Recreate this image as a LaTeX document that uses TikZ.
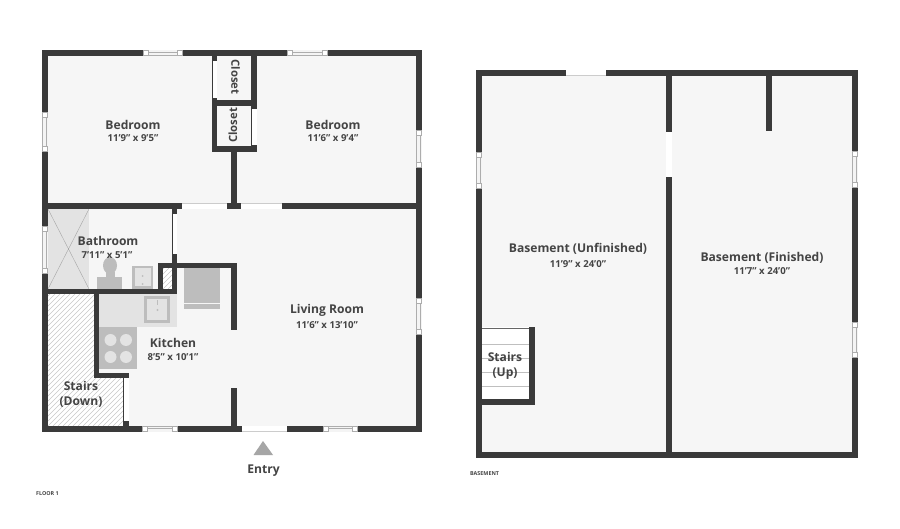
\documentclass[tikz,border=0pt]{standalone}
\usepackage{fontspec}
\setmainfont{Open Sans}
\definecolor{wallc}{HTML}{3A3A3A}
\definecolor{floorc}{HTML}{F6F6F6}
\definecolor{fixt}{HTML}{E3E3E3}
\definecolor{appl}{HTML}{BDBDBD}
\definecolor{txtc}{HTML}{444444}
\newcommand{\wall}[4]{\fill[wallc] (#1,#2) rectangle (#3,#4);}
\newcommand{\opening}[4]{\fill[white] (#1,#2) rectangle (#3,#4);}
\newcommand{\hwin}[3]{\fill[white] (#1,#3) rectangle (#2,#3+5.6);
  \draw[winline] (#1,#3+.3) rectangle (#2,#3+5.3);
  \fill[fixt!40] (#1+5,#3+.3) rectangle (#2-5,#3+5.3);
  \draw[winline] (#1+5,#3+.3) -- (#1+5,#3+5.3) (#2-5,#3+.3) -- (#2-5,#3+5.3);
  \draw[winline] (#1+5,#3+2) -- (#2-5,#3+2);}
\newcommand{\vwin}[3]{\fill[white] (#3,#1) rectangle (#3+5.6,#2);
  \draw[winline] (#3+.3,#1) rectangle (#3+5.3,#2);
  \fill[fixt!40] (#3+.3,#1+5) rectangle (#3+5.3,#2-5);
  \draw[winline] (#3+.3,#1+5) -- (#3+5.3,#1+5) (#3+.3,#2-5) -- (#3+5.3,#2-5);
  \draw[winline] (#3+3.6,#1+5) -- (#3+3.6,#2-5);}
\tikzset{
  x=1pt,y=-1pt,
  winline/.style={draw=black!32,line width=.4pt},
  hatchline/.style={draw=black!22,line width=.5pt},
  stepline/.style={draw=black!25,line width=.7pt},
  roomname/.style={font=\bfseries\fontsize{12.1}{13.5}\selectfont,text=txtc,inner sep=0pt,align=center},
  closetname/.style={font=\bfseries\fontsize{11.3}{13}\selectfont,text=txtc,inner sep=0pt},
  roomdim/.style={font=\bfseries\fontsize{9.6}{11}\selectfont,text=txtc,inner sep=0pt},
  floorlabel/.style={font=\bfseries\fontsize{5.4}{6}\selectfont,text=txtc,inner sep=0pt,anchor=west},
}
\begin{document}
\begin{tikzpicture}
\useasboundingbox (0,0) rectangle (900,529);
\fill[white] (0,0) rectangle (900,529);
% floors
\fill[floorc] (42,50) rectangle (422,432);
\fill[floorc] (476,70) rectangle (858,458);
% shower
\fill[fixt] (48,209) rectangle (89,289);
\draw[black!35,line width=.4pt] (48,209) -- (89,289) (89,209) -- (48,289);
% stairs down hatch: one L-shaped clip for the whole flight
\begin{scope}
  \clip (48,294) -- (94,294) -- (94,378) -- (123,378) -- (123,426) -- (48,426) -- cycle;
  \fill[white] (48,294) rectangle (123,426);
  \foreach \d in {-140,-135,...,130}{\draw[hatchline] (48+\d,426) -- (48+\d+140,286);}
\end{scope}
% shaft
\begin{scope}
  \clip (163,268) rectangle (172,289);
  \fill[white] (163,268) rectangle (172,289);
  \foreach \d in {-30,-25,...,10}{\draw[hatchline] (163+\d,289) -- (163+\d+30,259);}
\end{scope}
% bath fixtures
\fill[appl] (97,277) rectangle (122,289);
\fill[appl] (105.5,272) rectangle (114.5,278);
\fill[appl] (110,265.5) ellipse (7 and 8.5);
\fill[appl] (132,266) rectangle (153,289);
\fill[fixt] (134.5,268.5) rectangle (150.5,286.5);
\fill[appl] (142.5,276) circle (1);
\fill[appl] (142.5,284) circle (1);
% kitchen counter
\fill[fixt] (99,294) rectangle (177,327);
\fill[appl] (144,296) rectangle (170,323);
\fill[fixt] (147,299) rectangle (167,320);
\fill[appl] (157,300) rectangle (158,305);
\fill[appl] (157.5,310) circle (1.2);
% stove
\fill[appl] (99,327) rectangle (137,369);
\foreach \cx/\cy in {110.5/340,126/340,110.5/357,126/357}{\fill[fixt] (\cx,\cy) circle (6);}
% fridge
\fill[appl] (184,268) rectangle (220,303);
\fill[appl] (184,304) rectangle (220,309);
% floor 1 walls
\wall{42}{50}{422}{56}
\wall{42}{426}{422}{432}
\wall{42}{50}{48}{432}
\wall{416}{50}{422}{432}
\wall{42}{203}{422}{209}
\wall{212}{50}{217}{152}
\wall{251}{50}{257}{152}
\wall{212}{100}{257}{106}
\wall{212}{146}{257}{152}
\wall{231}{152}{237}{209}
\wall{172}{209}{177}{268}
\wall{158}{263}{237}{268.5}
\wall{231}{263}{237}{330}
\wall{231}{388}{237}{432}
\wall{158}{263}{163}{294}
\wall{172}{263}{177}{294}
\wall{42}{289}{177}{294.5}
\wall{94}{289}{99}{378}
\wall{94}{373}{129}{378.5}
\wall{123}{373}{128.5}{432}
% floor 1 openings
\opening{182}{203}{227}{209}
\opening{241}{203}{282}{209}
\draw[black!20,line width=.3pt] (182,203.3) -- (227,203.3) (241,203.3) -- (282,203.3);
\opening{212.5}{61}{217}{98}
\opening{252}{109}{257}{145}
\opening{172.5}{214}{177}{254}
\opening{123.5}{378.5}{128.5}{421}
\opening{242}{426}{287}{432}
\draw[black!20,line width=.3pt] (242,431.6) -- (287,431.6);
\hwin{143}{182}{50.2}
\hwin{287}{327}{50.2}
\hwin{142}{177}{426.2}
\hwin{323}{357}{426.2}
\vwin{112}{151}{42.2}
\vwin{226}{273}{42.2}
\vwin{130}{167}{416.2}
\vwin{298}{334}{416.2}
% entry
\fill[black!35] (263,441) -- (273,455) -- (253.5,455) -- cycle;
% basement steps
\fill[white] (482,327) rectangle (529,399);
\foreach \sy in {344,358,372,386}{\draw[stepline] (482,\sy) -- (529,\sy);}
\draw[black!60,line width=.8pt] (482,328.5) -- (529,328.5);
% basement walls
\wall{476}{70}{858}{76}
\wall{476}{452}{858}{458}
\wall{476}{70}{482}{458}
\wall{852}{70}{858}{458}
\wall{666}{70}{671.5}{458}
\wall{766}{70}{772}{131}
\wall{529}{327}{535}{404}
\wall{482}{399}{535}{404.5}
\opening{666}{132.5}{671.5}{177}
\opening{566}{70}{606}{76}
\draw[black!20,line width=.3pt] (566,75.6) -- (606,75.6);
\vwin{152}{188}{476.2}
\vwin{151}{187}{852.2}
\vwin{322}{357}{852.2}
% labels
\node[roomname] (n1) at (133,124.5) {Bedroom};
\node[roomdim]  (d1) at (133,138.5) {11'9" x 9'5"};
\node[roomname] (n2) at (333,124.5) {Bedroom};
\node[roomdim]  (d2) at (333,138.5) {11'6" x 9'4"};
\node[closetname,rotate=-90] (c1) at (235.5,77) {Closet};
\node[closetname,rotate=90]  (c2) at (233,125.5) {Closet};
\node[roomname] (n3) at (108,240.5) {Bathroom};
\node[roomdim]  (d3) at (107,255) {7'11" x 5'1"};
\node[roomname] (n4) at (173,342.5) {Kitchen};
\node[roomdim]  (d4) at (173,357) {8'5" x 10'1"};
\node[roomname] (n5) at (81,394.5) {Stairs\\[2pt](Down)};
\node[roomname] (n6) at (327,310) {Living Room};
\node[roomdim]  (d6) at (327,325) {11'6" x 13'10"};
\node[roomname] (n7) at (578,249) {Basement (Unfinished)};
\node[roomdim]  (d7) at (578,264) {11'9" x 24'0"};
\node[roomname] (n8) at (762,257.5) {Basement (Finished)};
\node[roomdim]  (d8) at (762,271.5) {11'7" x 24'0"};
\node[roomname] (n9) at (505,366) {Stairs\\[2pt](Up)};
\node[roomname] (n10) at (263.5,470.5) {Entry};
\node[floorlabel] (f1) at (36,493.5) {FLOOR 1};
\node[floorlabel] (f2) at (470,473.5) {BASEMENT};
\end{tikzpicture}
\end{document}
